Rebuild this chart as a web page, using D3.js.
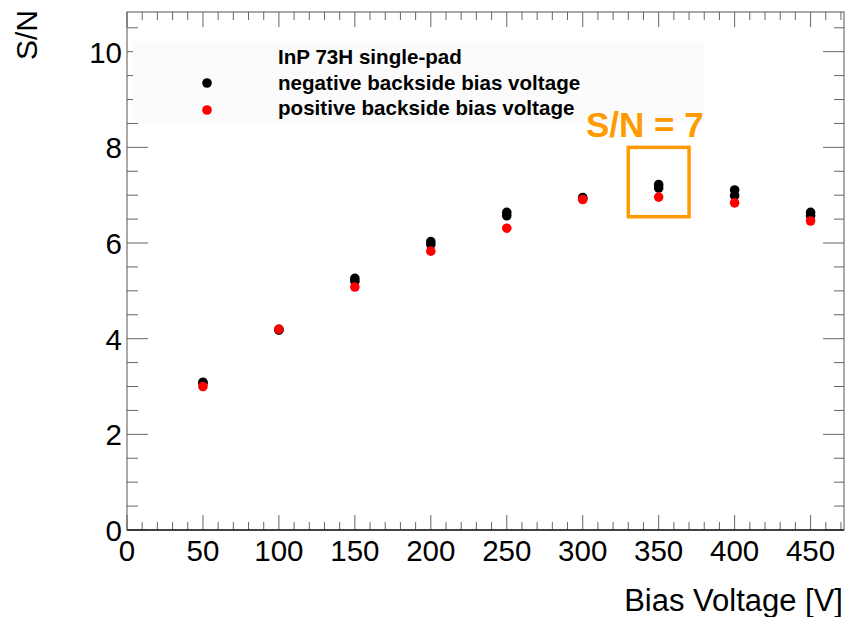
<!DOCTYPE html>
<html>
<head>
<meta charset="utf-8">
<script src="https://cdn.jsdelivr.net/npm/d3@7"></script>
<style>
  html, body { margin: 0; padding: 0; background: #fff; }
  svg { display: block; font-family: "Liberation Sans", Arial, Helvetica, sans-serif; }
</style>
</head>
<body>
<svg id="chart" width="846" height="617"></svg>
<script>
// ---- data ----
const voltages = [50, 100, 150, 200, 250, 300, 350, 400, 450];
const negativeRunA = [3.09, 4.19, 5.26, 6.03, 6.64, 6.95, 7.22, 7.11, 6.64];
const negativeRunB = [3.07, 4.18, 5.20, 5.97, 6.57, 6.93, 7.15, 6.99, 6.57];
const positiveBias = [3.00, 4.20, 5.08, 5.83, 6.31, 6.91, 6.96, 6.84, 6.46];
const xTicks = [0, 50, 100, 150, 200, 250, 300, 350, 400, 450];
const yTicks = [0, 2, 4, 6, 8, 10];
const legendTitle = "InP 73H single-pad";
const legendLabels = ["negative backside bias voltage", "positive backside bias voltage"];
const annotationText = "S/N = 7";
const highlightBox = { x0: 330, x1: 370, y0: 6.55, y1: 8.0 };
const xTitle = "Bias Voltage [V]";
const yTitle = "S/N";

// ---- layout ----
const svg = d3.select("#chart");
const L = 127, R = 844, T = 12, B = 530;
const x = d3.scaleLinear().domain([0, 472]).range([L, R]);
const y = d3.scaleLinear().domain([0, 10.83]).range([B, T]);

const tickCol = "#666";
const axisCol = "#222";

const xMinor = d3.range(0, 471, 10).filter(v => v % 50 !== 0);
const yMinor = d3.range(0.5, 10.8, 0.5).filter(v => v % 2 !== 0);

const g = svg.append("g");
g.selectAll(".xb").data(xTicks.concat(xMinor)).join("line")
  .attr("x1", d => x(d)).attr("x2", d => x(d))
  .attr("y1", B).attr("y2", d => B - (d % 50 === 0 ? 15 : 8))
  .attr("stroke", tickCol).attr("stroke-width", 1);
g.selectAll(".xt").data(xTicks.concat(xMinor)).join("line")
  .attr("x1", d => x(d)).attr("x2", d => x(d))
  .attr("y1", T).attr("y2", d => T + (d % 50 === 0 ? 15 : 8))
  .attr("stroke", tickCol).attr("stroke-width", 1);
g.selectAll(".yl").data(yTicks.concat(yMinor)).join("line")
  .attr("y1", d => y(d)).attr("y2", d => y(d))
  .attr("x1", L).attr("x2", d => L + (d % 2 === 0 ? 21 : 11))
  .attr("stroke", tickCol).attr("stroke-width", 1);
g.selectAll(".yr").data(yTicks.concat(yMinor)).join("line")
  .attr("y1", d => y(d)).attr("y2", d => y(d))
  .attr("x1", R).attr("x2", d => R - (d % 2 === 0 ? 21 : 10))
  .attr("stroke", tickCol).attr("stroke-width", 1);

svg.append("rect").attr("x", L).attr("y", T).attr("width", R - L).attr("height", B - T)
  .attr("fill", "none").attr("stroke", "#555").attr("stroke-width", 1);
svg.append("line").attr("x1", L).attr("x2", R).attr("y1", B).attr("y2", B)
  .attr("stroke", axisCol).attr("stroke-width", 1.3);

svg.selectAll(".xlab").data(xTicks).join("text")
  .attr("x", d => x(d)).attr("y", 561)
  .attr("text-anchor", "middle").attr("font-size", 29.5).attr("fill", "#000")
  .text(d => d);
svg.selectAll(".ylab").data(yTicks).join("text")
  .attr("x", 122).attr("y", d => y(d) + 11)
  .attr("text-anchor", "end").attr("font-size", 29.5).attr("fill", "#000")
  .text(d => d);

svg.append("text").attr("x", 843).attr("y", 611)
  .attr("text-anchor", "end").attr("font-size", 31).text(xTitle);
svg.append("text").attr("transform", "translate(37,10) rotate(-90)")
  .attr("text-anchor", "end").attr("font-size", 30).text(yTitle);

svg.append("rect").attr("x", 133).attr("y", 42).attr("width", 572).attr("height", 81)
  .attr("fill", "#fbfbfb");
svg.append("text").attr("x", 278).attr("y", 64).attr("font-size", 20.6).attr("font-weight", "bold")
  .text(legendTitle);
const legendColors = ["#000", "#ff0000"];
legendLabels.forEach((lab, i) => {
  svg.append("circle").attr("cx", 207).attr("cy", 83 + i * 27).attr("r", 4.8).attr("fill", legendColors[i]);
  svg.append("text").attr("x", 278).attr("y", 89.5 + i * 25.5).attr("font-size", 20.6)
    .attr("font-weight", "bold").text(lab);
});

const pts = svg.append("g");
[negativeRunB, negativeRunA].forEach(series => {
  pts.selectAll(null).data(series).join("circle")
    .attr("cx", (d, i) => x(voltages[i])).attr("cy", d => y(d))
    .attr("r", 4.8).attr("fill", "#000");
});
pts.selectAll(null).data(positiveBias).join("circle")
  .attr("cx", (d, i) => x(voltages[i])).attr("cy", d => y(d))
  .attr("r", 4.8).attr("fill", "#ff0000");

const orange = "#ff9a00";
svg.append("rect")
  .attr("x", x(highlightBox.x0)).attr("y", y(highlightBox.y1))
  .attr("width", x(highlightBox.x1) - x(highlightBox.x0))
  .attr("height", y(highlightBox.y0) - y(highlightBox.y1))
  .attr("fill", "none").attr("stroke", orange).attr("stroke-width", 3.5);
svg.append("text").attr("x", 586).attr("y", 137)
  .attr("font-size", 35).attr("font-weight", "bold").attr("fill", orange)
  .text(annotationText);
</script>
</body>
</html>
